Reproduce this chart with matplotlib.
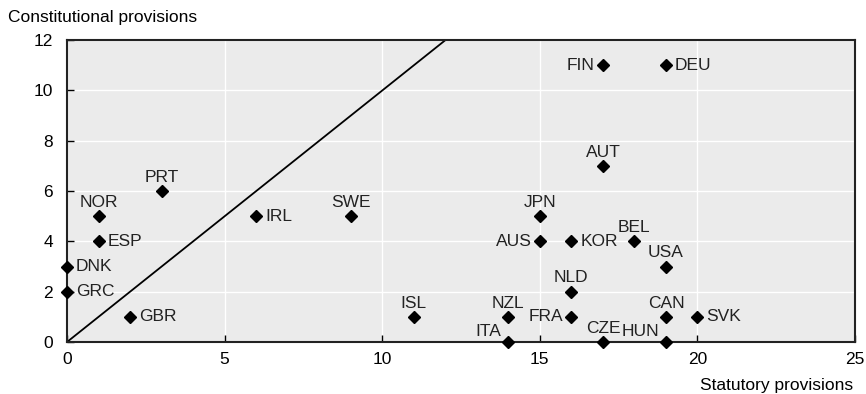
import matplotlib
matplotlib.use("Agg")
import matplotlib.pyplot as plt

plt.rcParams["font.family"] = ["Liberation Sans", "DejaVu Sans"]
fs = 12.5

countries = ["FIN", "DEU", "AUT", "PRT", "NOR", "IRL", "SWE", "JPN", "ESP", "AUS",
             "KOR", "BEL", "USA", "DNK", "NLD", "GRC", "GBR", "ISL", "NZL", "FRA",
             "CAN", "SVK", "ITA", "CZE", "HUN"]
statutory = [17, 19, 17, 3, 1, 6, 9, 15, 1, 15,
             16, 18, 19, 0, 16, 0, 2, 11, 14, 16,
             19, 20, 14, 17, 19]
constitutional = [11, 11, 7, 6, 5, 5, 5, 5, 4, 4,
                  4, 4, 3, 3, 2, 2, 1, 1, 1, 1,
                  1, 1, 0, 0, 0]
# where each label sits relative to its marker
label_pos = ["left", "right", "above", "above", "above", "right", "above", "above", "right", "left",
             "right", "above", "above", "right", "above", "right", "right", "above", "above", "left",
             "above", "right", "aboveleft", "above", "aboveleft"]

fig = plt.figure(figsize=(8.66, 3.94), dpi=100)
ax = fig.add_axes([0.0774, 0.132, 0.910, 0.766])
ax.set_facecolor("#EBEBEB")

ax.plot([0, 12], [0, 12], color="black", lw=1.3, zorder=2)
ax.plot(statutory, constitutional, "D", color="black", ms=6.5, clip_on=False, zorder=3)

offsets = {"left": (-6, 0, "right", "center"),
           "right": (6.5, 0, "left", "center"),
           "above": (0, 4.5, "center", "bottom"),
           "aboveleft": (-5, 2, "right", "bottom")}
for c, x, y, p in zip(countries, statutory, constitutional, label_pos):
    dx, dy, ha, va = offsets[p]
    ax.annotate(c, (x, y), xytext=(dx, dy), textcoords="offset points",
                ha=ha, va=va, fontsize=fs, color="#222222")

ax.set_xlim(0, 25)
ax.set_ylim(0, 12)
ax.set_xticks([0, 5, 10, 15, 20, 25])
ax.set_yticks([0, 2, 4, 6, 8, 10, 12])
ax.grid(True, color="white", lw=1)
ax.set_axisbelow(True)
ax.tick_params(direction="in", length=5, width=1, labelsize=fs, colors="black")
ax.tick_params(axis="y", pad=10)
ax.tick_params(axis="x", pad=7)
for s in ax.spines.values():
    s.set_linewidth(1.5)
    s.set_color("#222222")

fig.text(0.009, 0.955, "Constitutional provisions", fontsize=fs, ha="left", va="center")
fig.text(0.985, 0.022, "Statutory provisions", fontsize=fs, ha="right", va="center")

fig.savefig("out.png", dpi=100)
